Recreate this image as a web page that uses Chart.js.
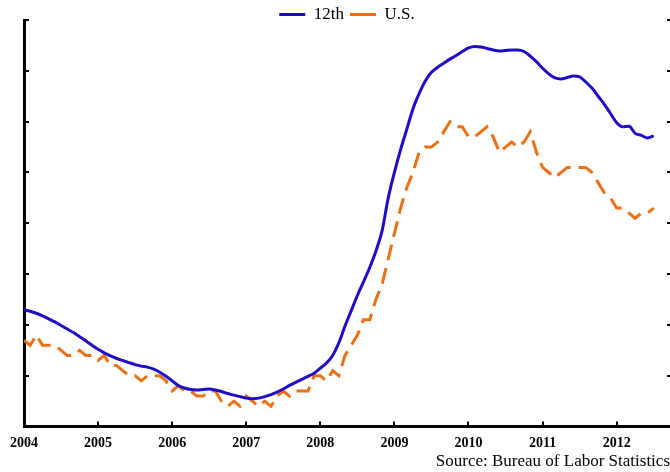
<!DOCTYPE html>
<html lang="en">
	<head>
		<meta charset="UTF-8">
		<script src="https://cdn.jsdelivr.net/npm/chart.js"></script>
		<style>
			* { margin: 0; padding: 0; }
			body { background: #fff; }
			#wrap { width: 670px; height: 472px; }
		</style>
	</head>
	<body>
		<div id="wrap"><canvas id="myChart"></canvas></div>
		<script>
			// monthly, Jan 2004 .. Jul 2012
			const startYear = 2004;
			const yearTicks = [2004, 2005, 2006, 2007, 2008, 2009, 2010, 2011, 2012];
			const rateTicks = [4, 5, 6, 7, 8, 9, 10, 11, 12];

			const district12 = [
				6.30, 6.27, 6.23, 6.18, 6.12, 6.06, 5.99, 5.92, 5.85, 5.77, 5.69, 5.60,
				5.52, 5.45, 5.39, 5.34, 5.30, 5.26, 5.22, 5.19, 5.17, 5.13, 5.07, 4.99,
				4.90, 4.81, 4.76, 4.73, 4.72, 4.73, 4.74, 4.72, 4.69, 4.65, 4.62, 4.59,
				4.56, 4.55, 4.56, 4.59, 4.63, 4.68, 4.74, 4.81, 4.87, 4.93, 4.99, 5.05,
				5.15, 5.25, 5.40, 5.65, 5.98, 6.28, 6.58, 6.85, 7.13, 7.45, 7.85, 8.50,
				9.00, 9.45, 9.85, 10.25, 10.55, 10.80, 10.97, 11.07, 11.15, 11.23, 11.30, 11.38,
				11.45, 11.48, 11.47, 11.44, 11.41, 11.39, 11.40, 11.41, 11.41, 11.38, 11.29, 11.18,
				11.05, 10.94, 10.86, 10.84, 10.87, 10.90, 10.88, 10.78, 10.66, 10.50, 10.34, 10.16,
				9.98, 9.90, 9.91, 9.77, 9.73, 9.68, 9.72
			];
			const usRate = [
				5.7, 5.6, 5.8, 5.6, 5.6, 5.6, 5.5, 5.4, 5.4, 5.5, 5.4, 5.4,
				5.3, 5.4, 5.2, 5.2, 5.1, 5.0, 5.0, 4.9, 5.0, 5.0, 5.0, 4.9,
				4.7, 4.8, 4.7, 4.7, 4.6, 4.6, 4.7, 4.7, 4.5, 4.4, 4.5, 4.4,
				4.6, 4.5, 4.4, 4.5, 4.4, 4.6, 4.7, 4.6, 4.7, 4.7, 4.7, 5.0,
				5.0, 4.9, 5.1, 5.0, 5.4, 5.6, 5.8, 6.1, 6.1, 6.5, 6.8, 7.3,
				7.8, 8.3, 8.7, 9.0, 9.4, 9.5, 9.5, 9.6, 9.8, 10.0, 9.9, 9.9,
				9.7, 9.7, 9.8, 9.9, 9.7, 9.4, 9.5, 9.6, 9.5, 9.6, 9.8, 9.4,
				9.1, 9.0, 8.9, 9.0, 9.1, 9.1, 9.1, 9.1, 9.0, 8.8, 8.6, 8.5,
				8.3, 8.3, 8.2, 8.1, 8.2, 8.2, 8.3
			];

			const toPoints = (arr) => arr.map((v, i) => ({ x: startYear + i / 12, y: v }));

			const BLUE = '#1f0cc4';
			const ORANGE = '#ea7013';

			// inward tick marks on the axes
			const innerTicks = {
				id: 'innerTicks',
				afterDraw(chart) {
					const ctx = chart.ctx;
					const area = chart.chartArea;
					const xs = chart.scales.x, ys = chart.scales.y;
					ctx.save();
					ctx.strokeStyle = '#000';
					ctx.lineWidth = 2;
					ctx.beginPath();
					rateTicks.forEach(v => {
						const y = Math.round(ys.getPixelForValue(v));
						if (v === rateTicks[0]) return;
						ctx.moveTo(area.left, y); ctx.lineTo(area.left + 5, y);
						ctx.moveTo(area.right - 3, y); ctx.lineTo(area.right, y);
					});
					yearTicks.forEach(yr => {
						if (yr === yearTicks[0]) return;
						const x = Math.round(xs.getPixelForValue(yr));
						ctx.moveTo(x, area.bottom); ctx.lineTo(x, area.bottom - 5);
					});
					ctx.stroke();
					ctx.restore();
				}
			};

			const config = {
				type: 'line',
				data: {
					datasets: [{
							label: '12th',
							data: toPoints(district12),
							borderColor: BLUE,
							borderWidth: 3,
							pointRadius: 0,
							cubicInterpolationMode: 'monotone'
						},
						{
							label: 'U.S.',
							data: toPoints(usRate),
							borderColor: ORANGE,
							borderWidth: 3,
							pointRadius: 0,
							tension: 0,
							borderDash: [16, 8]
						}
					]
				},
				plugins: [innerTicks],
				options: {
					responsive: true,
					maintainAspectRatio: false,
					animation: false,
					layout: { padding: { left: 24, right: 0, top: 0, bottom: 0 } },
					plugins: {
						legend: {
							position: 'top',
							maxHeight: 20,
							labels: {
								color: '#000',
								font: { family: 'Liberation Serif', size: 17 },
								boxWidth: 26,
								boxHeight: 3,
								padding: 6,
								generateLabels: (chart) => chart.data.datasets.map((d, i) => ({
									text: d.label,
									fillStyle: d.borderColor,
									strokeStyle: d.borderColor,
									lineWidth: 0,
									hidden: false,
									datasetIndex: i
								}))
							}
						},
						title: {
							display: true,
							position: 'bottom',
							align: 'end',
							text: 'Source: Bureau of Labor Statistics',
							color: '#000',
							font: { family: 'Liberation Serif', size: 17, weight: 'normal', lineHeight: 1.2 },
							padding: { top: 0, bottom: 0 }
						},
						tooltip: { enabled: false }
					},
					scales: {
						x: {
							type: 'linear',
							min: 2004,
							max: 2012.72,
							afterBuildTicks: (scale) => { scale.ticks = yearTicks.map(v => ({ value: v })); },
							afterFit: (scale) => { scale.height = 25; },
							grid: { display: false },
							border: { color: '#000', width: 3 },
							ticks: {
								color: '#000',
								padding: 0,
								maxRotation: 0,
								font: { family: 'Liberation Serif', size: 14, weight: 'bold' },
								callback: (v) => String(v)
							}
						},
						y: {
							min: 4,
							max: 12,
							afterBuildTicks: (scale) => { scale.ticks = rateTicks.map(v => ({ value: v })); },
							afterFit: (scale) => { scale.width = 0; },
							grid: { display: false },
							border: { color: '#000', width: 3 },
							ticks: { display: false }
						}
					}
				}
			};

			const myChart = new Chart(document.getElementById('myChart'), config);
		</script>
	</body>
</html>
